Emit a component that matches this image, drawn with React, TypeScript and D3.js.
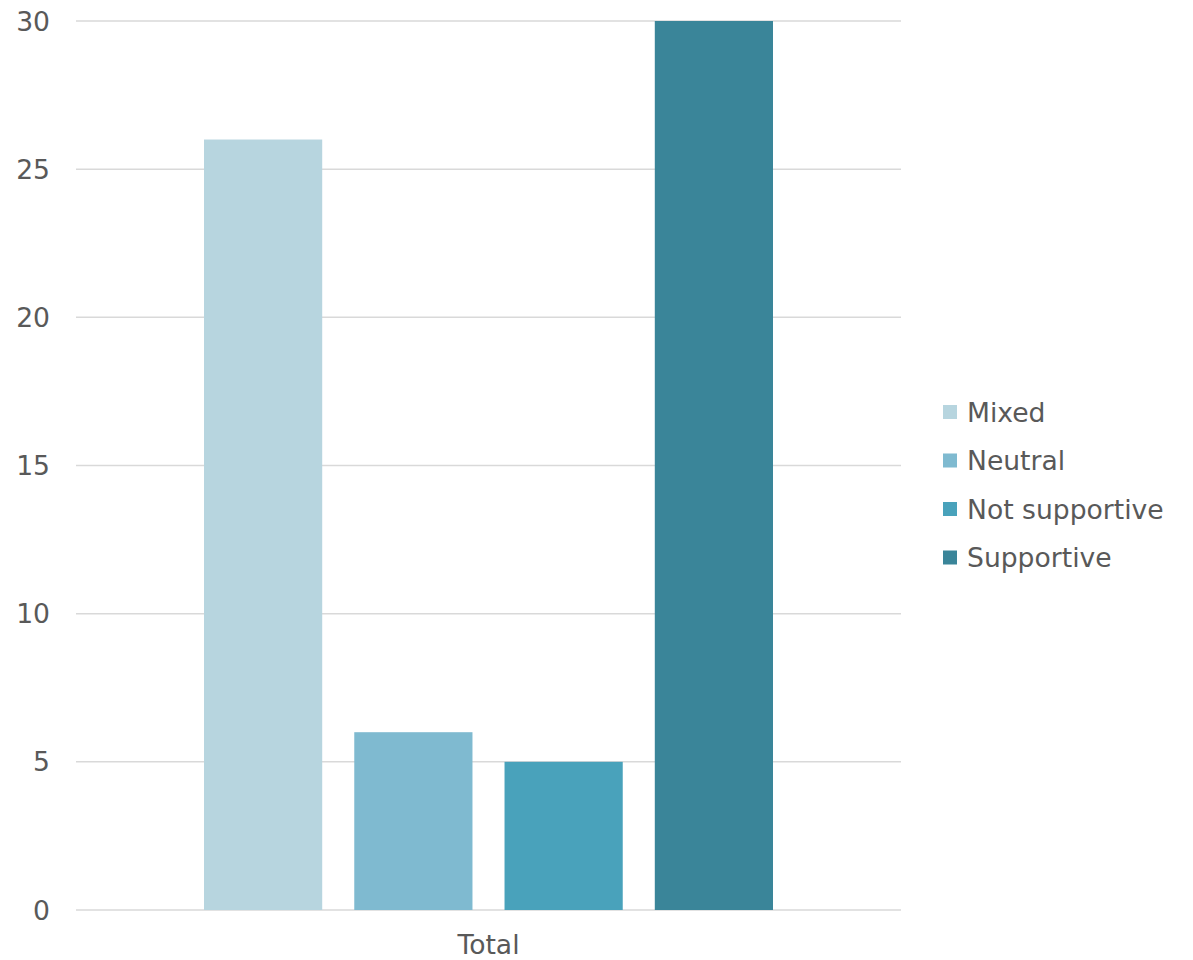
import React from "react";
import * as d3 from "d3";

const categories = ["Total"];
const seriesNames = ["Mixed", "Neutral", "Not supportive", "Supportive"];
const seriesValues = [26, 6, 5, 30];
const seriesColors = ["#B7D5DF", "#7FBAD0", "#49A2BB", "#3A8599"];
const yTicks = [0, 5, 10, 15, 20, 25, 30];

const W = 1193;
const H = 960;
const FONT = "Verdana, 'DejaVu Sans', sans-serif";
const TEXT = "#595959";

export default function App() {
  const left = 76, right = 901, top = 21, bottom = 910;
  const y = d3.scaleLinear().domain([0, 30]).range([bottom, top]);
  const x = d3.scaleBand().domain(categories).range([left, right]).paddingInner(0).paddingOuter(0);
  const groupW = 569;
  const cx = (x("Total") as number) + x.bandwidth() / 2;
  const xs = d3
    .scaleBand()
    .domain(seriesNames)
    .range([cx - groupW / 2, cx + groupW / 2])
    .paddingInner(32 / 150)
    .paddingOuter(0);

  const legendX = 943, legendY0 = 412, legendStep = 48.5;
  const fs = 26.6;

  return (
    <svg width={W} height={H} style={{ display: "block", position: "absolute", left: 0, top: 0 }} fontFamily={FONT}>
      <rect width={W} height={H} fill="#fff" />
      {yTicks.map((t) => (
        <g key={t}>
          <line x1={left} x2={right} y1={y(t)} y2={y(t)} stroke="#D9D9D9" strokeWidth={1.5} />
          <text x={50} y={y(t)} dy="0.36em" textAnchor="end" fontSize={fs} fill={TEXT}>
            {t}
          </text>
        </g>
      ))}
      {seriesNames.map((s, i) => (
        <rect
          key={s}
          x={xs(s)}
          width={xs.bandwidth()}
          y={y(seriesValues[i])}
          height={y(0) - y(seriesValues[i])}
          fill={seriesColors[i]}
        />
      ))}
      <text x={cx} y={954} textAnchor="middle" fontSize={fs} fill={TEXT}>
        {categories[0]}
      </text>
      {seriesNames.map((s, i) => (
        <g key={s} transform={`translate(${legendX},${legendY0 + i * legendStep})`}>
          <rect x={0} y={-7} width={14} height={14} fill={seriesColors[i]} />
          <text x={24} y={0} dy="0.36em" fontSize={fs} fill={TEXT}>
            {s}
          </text>
        </g>
      ))}
    </svg>
  );
}
